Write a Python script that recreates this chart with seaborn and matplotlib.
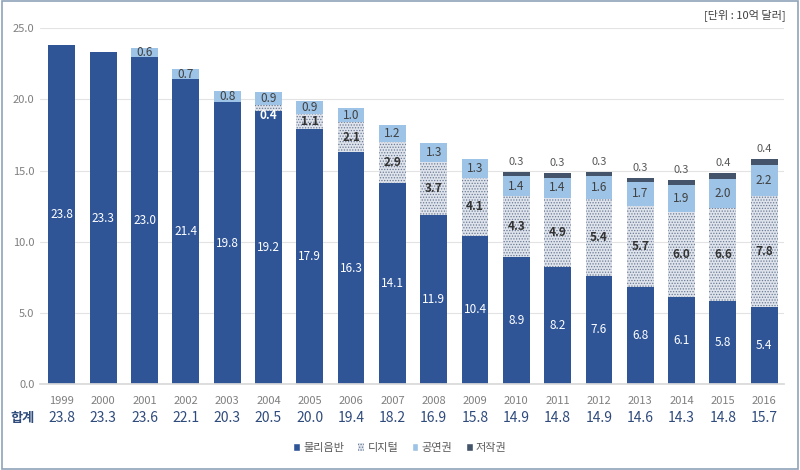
import matplotlib
matplotlib.use("Agg")
import matplotlib.pyplot as plt
from matplotlib.patches import Rectangle, Patch
import numpy as np
import pandas as pd
import seaborn as sns

years = [str(y) for y in range(1999, 2017)]
physical = [23.8, 23.3, 23.0, 21.4, 19.8, 19.2, 17.9, 16.3, 14.1, 11.9, 10.4, 8.9, 8.2, 7.6, 6.8, 6.1, 5.8, 5.4]
digital = [0, 0, 0, 0, 0, 0.4, 1.1, 2.1, 2.9, 3.7, 4.1, 4.3, 4.9, 5.4, 5.7, 6.0, 6.6, 7.8]
performance = [0, 0, 0.6, 0.7, 0.8, 0.9, 0.9, 1.0, 1.2, 1.3, 1.3, 1.4, 1.4, 1.6, 1.7, 1.9, 2.0, 2.2]
sync = [0, 0, 0, 0, 0, 0, 0, 0, 0, 0, 0, 0.3, 0.3, 0.3, 0.3, 0.3, 0.4, 0.4]
totals = [23.8, 23.3, 23.6, 22.1, 20.3, 20.5, 20.0, 19.4, 18.2, 16.9, 15.8, 14.9, 14.8, 14.9, 14.6, 14.3, 14.8, 15.7]

C_PHYS = "#2f5597"
C_DIG = "#dfe4ec"
C_PERF = "#9dc3e6"
C_SYNC = "#44546a"
GRAY = "#7f7f7f"

sns.set_theme(style="white")
plt.rcParams["font.family"] = ["Noto Sans CJK KR", "DejaVu Sans"]
plt.rcParams["hatch.linewidth"] = 0.6

df = pd.DataFrame({"year": years, "phys": physical, "dig": digital,
                   "perf": performance, "sync": sync})
df["l2"] = df["phys"] + df["dig"]
df["l3"] = df["l2"] + df["perf"]
df["l4"] = df["l3"] + df["sync"]

fig = plt.figure(figsize=(8, 4.7), dpi=100)
ax = fig.add_axes([0.05, 0.183, 0.93, 0.757])

w = 0.65
# draw cumulative layers, tallest first, so each covers the one below
sns.barplot(data=df, x="year", y="l4", color=C_SYNC, saturation=1, width=w, ax=ax, linewidth=0)
sns.barplot(data=df, x="year", y="l3", color=C_PERF, saturation=1, width=w, ax=ax, linewidth=0)
sns.barplot(data=df, x="year", y="l2", color=C_DIG, saturation=1, width=w, ax=ax,
            hatch="......", edgecolor="#6a7a94", linewidth=0)
sns.barplot(data=df, x="year", y="phys", color=C_PHYS, saturation=1, width=w, ax=ax, linewidth=0)

ax.set_xlim(-0.53, 17.48)
ax.set_ylim(0, 25)
ax.set_yticks(np.arange(0, 25.1, 5))
ax.set_yticklabels([f"{v:.1f}" for v in np.arange(0, 25.1, 5)], color=GRAY, fontsize=8)
ax.tick_params(axis="y", length=0, pad=4)
ax.set_xticks([])
ax.set_xlabel("")
ax.set_ylabel("")
ax.yaxis.grid(True, color="#e3e3e3", linewidth=0.8)
ax.set_axisbelow(True)
for s in ["top", "right", "left"]:
    ax.spines[s].set_visible(False)
ax.spines["bottom"].set_color("#d9d9d9")

for i in range(len(years)):
    p, d, f, s = physical[i], digital[i], performance[i], sync[i]
    ax.text(i, p / 2, f"{p:.1f}", ha="center", va="center", color="white", fontsize=8.5)
    if d > 0:
        col = "white" if d < 0.6 else "#333333"
        ax.text(i, p + d / 2 - (0.5 if d < 0.6 else 0), f"{d:.1f}", ha="center", va="center",
                color=col, fontsize=8.5, fontweight="bold")
    if f > 0:
        ax.text(i, p + d + f / 2, f"{f:.1f}", ha="center", va="center", color="#404040", fontsize=8.5)
    if s > 0:
        ax.text(i, p + d + f + s + 0.35, f"{s:.1f}", ha="center", va="bottom", color="#595959", fontsize=8)
    ax.text(i, -1.2, years[i], ha="center", va="center", color=GRAY, fontsize=8)
    ax.text(i, -2.4, f"{totals[i]:.1f}", ha="center", va="center", color="#2f4b7c", fontsize=10)

ax.text(-0.96, -2.4, "합계", ha="center", va="center", color="#2f4b7c", fontsize=9.5, fontweight="bold")
fig.text(0.982, 0.968, "[단위 : 10억 달러]", ha="right", va="center", color="#404040", fontsize=8)

handles = [Patch(facecolor=C_PHYS), Patch(facecolor=C_DIG, hatch="......", edgecolor="#6a7a94", linewidth=0),
           Patch(facecolor=C_PERF), Patch(facecolor=C_SYNC)]
fig.legend(handles, ["물리음반", "디지털", "공연권", "저작권"], loc="center", bbox_to_anchor=(0.5, 0.047),
           ncol=4, frameon=False, fontsize=8, handlelength=0.6, handleheight=0.6, handletextpad=0.3,
           columnspacing=1.2, labelcolor="#595959")

fig.patches.append(Rectangle((0.002, 0.003), 0.996, 0.994, transform=fig.transFigure,
                             fill=False, edgecolor="#8da3b8", linewidth=1.2))

fig.savefig("out.png", dpi=100)
